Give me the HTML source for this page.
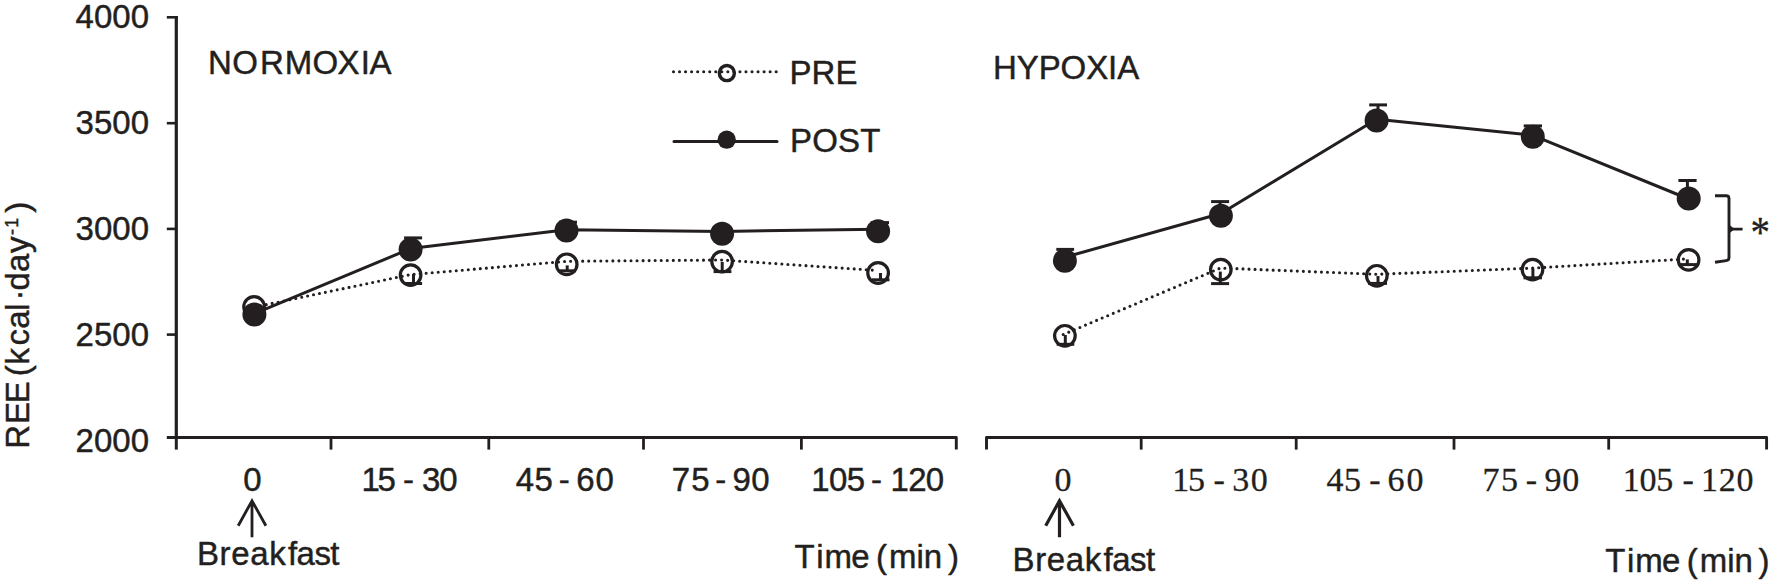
<!DOCTYPE html>
<html><head><meta charset="utf-8"><title>REE chart</title>
<style>
html,body{margin:0;padding:0;background:#fff;}
svg{display:block}
text{white-space:pre}
.ss{font-family:"Liberation Sans",sans-serif;fill:#231f20;stroke:#231f20;stroke-width:.45px;stroke-linejoin:round}
.sf{font-family:"Liberation Serif",serif;fill:#231f20;stroke:#231f20;stroke-width:.3px;stroke-linejoin:round}
</style></head><body>
<svg width="1772" height="583" viewBox="0 0 1772 583">
<rect width="1772" height="583" fill="#fff"/>
<g stroke="#231f20" fill="none" stroke-linecap="butt">
<path d="M176.3 16 V437.5" stroke-width="3.2"/>
<line x1="166.8" y1="17.3" x2="177.9" y2="17.3" stroke-width="2.6" />
<line x1="166.8" y1="123.2" x2="176.3" y2="123.2" stroke-width="2.6" />
<line x1="166.8" y1="228.9" x2="176.3" y2="228.9" stroke-width="2.6" />
<line x1="166.8" y1="334.6" x2="176.3" y2="334.6" stroke-width="2.6" />
<path d="M166.8 437.5 H956.3 V449.6" stroke-width="2.9" stroke-linejoin="round"/>
<line x1="176.3" y1="437.5" x2="176.3" y2="449.6" stroke-width="3" />
<line x1="331" y1="437.5" x2="331" y2="449.6" stroke-width="2.8" />
<line x1="488.8" y1="437.5" x2="488.8" y2="449.6" stroke-width="2.8" />
<line x1="643.5" y1="437.5" x2="643.5" y2="449.6" stroke-width="2.8" />
<line x1="801.4" y1="437.5" x2="801.4" y2="449.6" stroke-width="2.8" />
<path d="M986.5 449.6 V437.5 H1766.6 V449.6" stroke-width="2.9" stroke-linejoin="round"/>
<line x1="1141.2" y1="437.5" x2="1141.2" y2="449.6" stroke-width="2.8" />
<line x1="1296.2" y1="437.5" x2="1296.2" y2="449.6" stroke-width="2.8" />
<line x1="1454" y1="437.5" x2="1454" y2="449.6" stroke-width="2.8" />
<line x1="1608.7" y1="437.5" x2="1608.7" y2="449.6" stroke-width="2.8" />
</g>
<text class="ss" transform="translate(149 28.3) scale(1 1.035)" x="0" y="0" font-size="33" text-anchor="end" >4000</text>
<text class="ss" transform="translate(149 134.2) scale(1 1.035)" x="0" y="0" font-size="33" text-anchor="end" >3500</text>
<text class="ss" transform="translate(149 239.9) scale(1 1.035)" x="0" y="0" font-size="33" text-anchor="end" >3000</text>
<text class="ss" transform="translate(149 345.6) scale(1 1.035)" x="0" y="0" font-size="33" text-anchor="end" >2500</text>
<text class="ss" transform="translate(149 452.1) scale(1 1.035)" x="0" y="0" font-size="33" text-anchor="end" >2000</text>
<text class="ss" font-size="33" transform="translate(0 490.8) scale(1 1.035)" y="0" x="243.37">0</text>
<text class="ss" font-size="33" transform="translate(0 490.8) scale(1 1.035)" y="0" x="361.49 377.43 393.79 402.96 412.88 422.04 439.34">15 - 30</text>
<text class="ss" font-size="33" transform="translate(0 490.8) scale(1 1.035)" y="0" x="515.84 534.53 549.69 558.86 567.16 576.32 595.54">45 - 60</text>
<text class="ss" font-size="33" transform="translate(0 490.8) scale(1 1.035)" y="0" x="671.81 691.13 706.19 715.36 723.28 732.45 751.24">75 - 90</text>
<text class="ss" font-size="33" transform="translate(0 490.8) scale(1 1.035)" y="0" x="811.19 829.01 846.83 861.94 871.11 881.42 890.59 908.16 925.74">105 - 120</text>
<text class="sf" font-size="34" transform="translate(0 491.3) scale(1 1)" y="0" x="1054.4">0</text>
<text class="sf" font-size="34" transform="translate(0 491.3) scale(1 1)" y="0" x="1172.21 1188.03 1204.97 1213.47 1223.87 1232.37 1250.7">15 - 30</text>
<text class="sf" font-size="34" transform="translate(0 491.3) scale(1 1)" y="0" x="1326.54 1344.03 1360.87 1369.37 1379.04 1387.54 1406.5">45 - 60</text>
<text class="sf" font-size="34" transform="translate(0 491.3) scale(1 1)" y="0" x="1482.46 1501.03 1517.27 1525.77 1536.11 1544.61 1562.3">75 - 90</text>
<text class="sf" font-size="34" transform="translate(0 491.3) scale(1 1)" y="0" x="1622.71 1639.42 1656.13 1674.02 1682.52 1692.51 1701.01 1718.75 1736.5">105 - 120</text>
<text class="ss" font-size="33" transform="translate(0 74.4) scale(1 1.035)" y="0" x="207.99 232.34 259.89 284.69 312.44 337.56 360.65 369.56">NORMOXIA</text>
<text class="ss" font-size="33" transform="translate(0 78.7) scale(1 1.035)" y="0" x="993.09 1016.82 1038.72 1060.63 1086.19 1108.09 1117.15">HYPOXIA</text>
<text class="ss" font-size="33" transform="translate(0 84.3) scale(1 1.035)" y="0" x="789.39 811.49 835.41">PRE</text>
<text class="ss" font-size="33" transform="translate(0 152) scale(1 1.035)" y="0" x="789.99 812.21 838.08 860.3">POST</text>
<g stroke="#231f20" fill="none">
<line x1="673.5" y1="71.7" x2="778" y2="71.7" stroke-width="3.1" stroke-linecap="round" stroke-dasharray="0 6.04"/>
<circle cx="726.85" cy="73.1" r="7.55" stroke-width="3.4"/>
<line x1="674" y1="141.4" x2="777" y2="141.4" stroke-width="3" stroke-linecap="round"/>
</g>
<circle cx="726.7" cy="139.7" r="9.15" fill="#231f20"/>
<path d="M252 537.2 V501 M238.2 525.7 L252 500.8 L265.9 525.7" fill="none" stroke="#231f20" stroke-width="2.8" stroke-linecap="butt" stroke-linejoin="miter"/>
<path d="M1059.5 537.2 V501 M1045.7 525.7 L1059.5 500.8 L1073.4 525.7" fill="none" stroke="#231f20" stroke-width="3.2" stroke-linecap="butt" stroke-linejoin="miter"/>
<text class="ss" font-size="33" transform="translate(0 564.8) scale(1 1.035)" y="0" x="196.89 219.54 231.17 250.16 269.15 287.93 296.57 314.4 330.37">Breakfast</text>
<text class="ss" font-size="33" transform="translate(0 570.5) scale(1 1.035)" y="0" x="1012.49 1035.14 1046.77 1065.76 1084.75 1103.53 1112.17 1130 1145.97">Breakfast</text>
<text class="ss" font-size="33" transform="translate(0 567.6) scale(1 1.035)" y="0" x="794.46 816.19 824.51 851.2 866.79 875.95 889.01 916.49 923.81 947.91">Time (min)</text>
<text class="ss" font-size="33" transform="translate(0 571.9) scale(1 1.035)" y="0" x="1605.16 1626.89 1635.21 1661.9 1677.49 1686.65 1699.71 1727.19 1734.51 1758.61">Time (min)</text>
<text class="ss" font-size="33" transform="rotate(-90) translate(0 28.8) scale(1 1.035)" y="0"><tspan x="-448.81 -424.11 -403.21 -381.19 -376.15 -364.62 -345.6 -328.8 -310.67 -300.62 -290.59 -272.1 -253.08">REE (kcal·day</tspan><tspan font-size="18" y="-10.63" x="-235 -227.77">-1</tspan><tspan y="0" x="-212.79">)</tspan></text>
<g stroke="#231f20" fill="none">
<polyline points="254.4,307.1 410.6,274.6 566.6,261.3 722.1,260 878.1,270.5" stroke-width="3.1" stroke-linecap="round" stroke-linejoin="round" stroke-dasharray="0 6.04"/>
<polyline points="254.4,313.7 410.6,248.6 566.5,229.8 722.1,231.4 878.1,229.2" stroke-width="3" stroke-linejoin="round"/>
<line x1="413.5" y1="274" x2="413.5" y2="283.5" stroke-width="3" />
<line x1="405" y1="283.5" x2="422.1" y2="283.5" stroke-width="3" />
<line x1="567.2" y1="265.4" x2="567.2" y2="270.8" stroke-width="3" />
<line x1="558.5" y1="270.8" x2="576" y2="270.8" stroke-width="3" />
<line x1="722.2" y1="262" x2="722.2" y2="271.6" stroke-width="3" />
<line x1="713.6" y1="271.6" x2="731.4" y2="271.6" stroke-width="3" />
<line x1="880.5" y1="273" x2="880.5" y2="279.8" stroke-width="3" />
<line x1="871.5" y1="279.8" x2="889.5" y2="279.8" stroke-width="3" />
<line x1="413.1" y1="249" x2="413.1" y2="237.9" stroke-width="3" />
<line x1="404.1" y1="237.9" x2="422.1" y2="237.9" stroke-width="3" />
<line x1="568" y1="230" x2="568" y2="222.2" stroke-width="3" />
<line x1="559" y1="222.2" x2="577" y2="222.2" stroke-width="3" />
<line x1="880" y1="231" x2="880" y2="222.6" stroke-width="3" />
<line x1="871" y1="222.6" x2="889" y2="222.6" stroke-width="3" />
<circle cx="254.1" cy="307" r="10.3" stroke-width="3.2"/>
<circle cx="410.6" cy="275.1" r="10.3" stroke-width="3.2"/>
<circle cx="566.7" cy="264.3" r="10.3" stroke-width="3.2"/>
<circle cx="722.1" cy="261.6" r="10.3" stroke-width="3.2"/>
<circle cx="878.1" cy="273" r="10.3" stroke-width="3.2"/>
</g>
<circle cx="254.4" cy="314.5" r="12" fill="#231f20"/>
<circle cx="410.6" cy="249.6" r="12" fill="#231f20"/>
<circle cx="566.5" cy="230.4" r="12" fill="#231f20"/>
<circle cx="722.1" cy="233.8" r="12" fill="#231f20"/>
<circle cx="878.1" cy="231.3" r="12" fill="#231f20"/>
<g stroke="#231f20" fill="none">
<polyline points="1063.2,334.5 1220.5,268 1376.5,274.3 1532.8,268.1 1688.6,258.8" stroke-width="3.1" stroke-linecap="round" stroke-linejoin="round" stroke-dasharray="0 6.04"/>
<polyline points="1064.9,257.2 1220.9,213.5 1376.6,119.2 1532.8,135.3 1688.7,199" stroke-width="3" stroke-linejoin="round"/>
<line x1="1065.3" y1="335" x2="1065.3" y2="344.3" stroke-width="3" />
<line x1="1056.7" y1="344.3" x2="1074.3" y2="344.3" stroke-width="3" />
<line x1="1220.3" y1="271.6" x2="1220.3" y2="283.6" stroke-width="3" />
<line x1="1211.1" y1="283.6" x2="1229.1" y2="283.6" stroke-width="3" />
<line x1="1378" y1="276" x2="1378" y2="283.4" stroke-width="3" />
<line x1="1368.1" y1="283.4" x2="1387" y2="283.4" stroke-width="3" />
<line x1="1532.9" y1="268.6" x2="1532.9" y2="277.8" stroke-width="3" />
<line x1="1523.5" y1="277.8" x2="1542" y2="277.8" stroke-width="3" />
<line x1="1687.3" y1="259.4" x2="1687.3" y2="264.6" stroke-width="3" />
<line x1="1680" y1="264.6" x2="1697" y2="264.6" stroke-width="3" />
<line x1="1065.2" y1="258" x2="1065.2" y2="249.4" stroke-width="3" />
<line x1="1056.3" y1="249.4" x2="1074.1" y2="249.4" stroke-width="3" />
<line x1="1220.1" y1="214" x2="1220.1" y2="201.6" stroke-width="3" />
<line x1="1211.1" y1="201.6" x2="1229.1" y2="201.6" stroke-width="3" />
<line x1="1378" y1="119" x2="1378" y2="104.9" stroke-width="3" />
<line x1="1369.2" y1="104.9" x2="1387" y2="104.9" stroke-width="3" />
<line x1="1532.8" y1="135" x2="1532.8" y2="125.9" stroke-width="3" />
<line x1="1523.7" y1="125.9" x2="1542" y2="125.9" stroke-width="3" />
<line x1="1687.4" y1="198" x2="1687.4" y2="180.5" stroke-width="3" />
<line x1="1678.4" y1="180.5" x2="1696.6" y2="180.5" stroke-width="3" />
<circle cx="1064.9" cy="335.8" r="10.3" stroke-width="3.2"/>
<circle cx="1220.8" cy="269.6" r="10.3" stroke-width="3.2"/>
<circle cx="1376.8" cy="275.8" r="10.3" stroke-width="3.2"/>
<circle cx="1532.5" cy="269.6" r="10.3" stroke-width="3.2"/>
<circle cx="1688.6" cy="259.9" r="10.3" stroke-width="3.2"/>
</g>
<circle cx="1064.9" cy="260.8" r="12" fill="#231f20"/>
<circle cx="1220.9" cy="215.7" r="12" fill="#231f20"/>
<circle cx="1376.6" cy="120.6" r="12" fill="#231f20"/>
<circle cx="1532.8" cy="136.7" r="12" fill="#231f20"/>
<circle cx="1688.7" cy="198.5" r="12" fill="#231f20"/>
<path d="M1715 195.7 H1726.2 Q1729 195.7 1729 198.5 V257.5 Q1729 260.3 1726.2 260.6 L1715 262.2 M1729 229.1 H1742.6" fill="none" stroke="#231f20" stroke-width="2.9"/>
<path d="M1729 224.5 L1734.5 229.1 L1729 233.7 Z" fill="#231f20"/>
<text class="sf" font-size="39" text-anchor="middle" transform="translate(1760.3 225.9) scale(1 1.13)" x="0" y="18.4">*</text>
</svg>
</body></html>
